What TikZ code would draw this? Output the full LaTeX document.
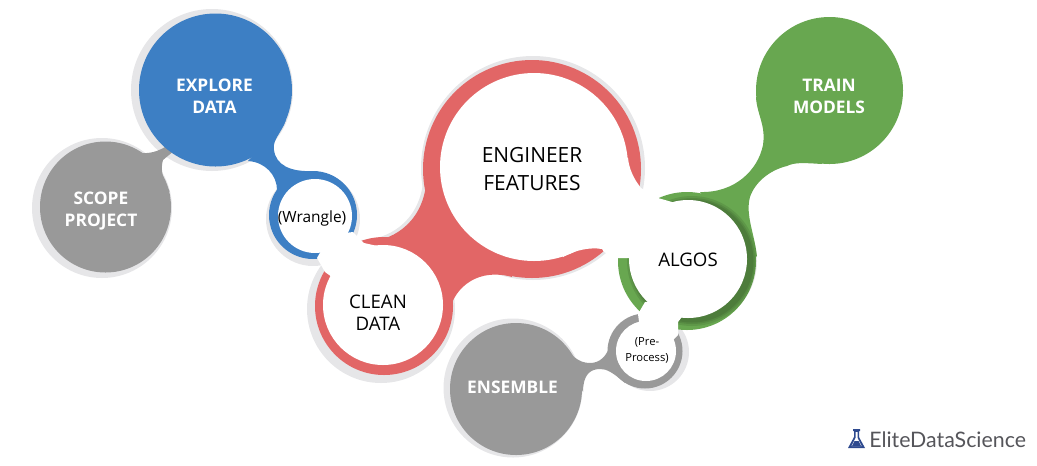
\documentclass[tikz,border=0pt]{standalone}
\usepackage{fontspec}
\setmainfont{Open Sans}
\newfontfamily\logofont{Lato}
\definecolor{hazegrey}{RGB}{230,230,232}
\definecolor{stepgrey}{RGB}{153,153,153}
\definecolor{stepblue}{RGB}{61,127,196}
\definecolor{stepred}{RGB}{226,102,102}
\definecolor{stepgreen}{RGB}{104,167,80}
\definecolor{logoblue}{RGB}{46,74,143}
\definecolor{logotext}{RGB}{85,85,90}
\newcommand{\redweb}{(364,242) .. controls (390,242) and (421,225) .. (426,185) -- (500,200) -- (512,277) .. controls (480,268) and (455,285) .. (449,312) -- (400,300) -- cycle}

\begin{document}
\begin{tikzpicture}[
    x=0.75pt, y=-0.75pt,
    halo/.style={fill=hazegrey},
    hole/.style={fill=white},
    shade/.style={fill=black, fill opacity=0.09},
    whitetext/.style={text=white, align=center, font=\bfseries\fontsize{13}{16.5}\selectfont},
    darktext/.style={text=black, align=center, font=\fontsize{14}{16.5}\selectfont}
]
\useasboundingbox (0,0) rectangle (1037,465);

% Scope project
\fill[halo] (102,208) circle[radius=70];
\fill[stepgrey] (105.5,207) circle[radius=65.5];

% Explore data and wrangle ring
\fill[halo] (212,90) circle[radius=81];
\fill[stepgrey] (135,152) .. controls (148,155) and (158,152) .. (170,144) -- (175,150) -- (163,160) .. controls (160,170) and (163,180) .. (170,192) -- cycle;
\fill[halo] (313,219) circle[radius=47];
\fill[stepblue] (215.5,90) circle[radius=76.5];
\fill[stepblue] (313,215) circle[radius=44];
\fill[stepblue] (286,120) .. controls (282,132) and (272,140) .. (274,150) .. controls (276,165) and (290,172) .. (313,171) -- (277,190) .. controls (277,175) and (265,162) .. (248,161) -- cycle;

% Ensemble and pre-process ring
\fill[halo] (513,388) circle[radius=69.5];
\fill[halo] (650,352) circle[radius=39];
\fill[stepgrey] (516,389) circle[radius=66];
\fill[stepgrey] (645,351) circle[radius=37.5];
\fill[stepgrey] (560,340) .. controls (570,355) and (578,363) .. (590,363) .. controls (600,363) and (606,356) .. (609,348) -- (625,383) .. controls (612,372) and (607,369) .. (600,369) .. controls (590,369) and (583,375) .. (583,392) -- cycle;

% Clean data and engineer features
\begin{scope}
\clip (300,262) rectangle (470,390);
\fill[halo] (381,309) circle[radius=74];
\end{scope}
\fill[halo] (533,168) circle[radius=112];
\fill[halo, shift={(-3,-2)}] \redweb;
\fill[stepred] (384,306) circle[radius=69];
\fill[stepred] (532,169) circle[radius=109];
\fill[stepred] \redweb;

% Train models and algos ring
\fill[stepgreen] (829.5,90.5) circle[radius=73.5];
\fill[stepgreen] (687,261) circle[radius=69];
\fill[stepgreen] (756,97) .. controls (757,115) and (766,125) .. (763,145) .. controls (758,170) and (735,193) .. (700,192) -- (720,220) -- (757,257) .. controls (755,235) and (745,215) .. (750,197) .. controls (755,182) and (770,170) .. (787,166) .. controls (795,162) and (805,163) .. (822,164) -- (830,90) -- cycle;
\fill[shade] (692,261) circle[radius=65];
\fill[shade] (692,261) circle[radius=63];
\fill[shade] (692,261) circle[radius=61.5];

% White insides and their necks
\fill[hole] (315,216) circle[radius=37];
\fill[hole] (383,305) circle[radius=60];
\fill[hole] (534,167) circle[radius=94];
\fill[hole] (688,259) circle[radius=59];
\fill[hole] (646,351) circle[radius=30];
\fill[hole] (353,232) -- (364,243) -- (395,250) -- (350,290) -- (325,272) -- (317,258) -- (330,235) -- cycle;
\fill[hole] (534,167) -- (628,158) .. controls (629,168) and (633,178) .. (641,188) -- (658,198) -- (672,202) -- (700,240) -- (640,258) -- (618,258) -- (604,252) -- (602,249) .. controls (590,247) and (575,250) .. (563,257) -- cycle;
\fill[hole] (645,302) -- (638,314) -- (642,345) -- (668,345) -- (678,335) -- (678,322) -- (695,300) -- cycle;

% Labels
\node[whitetext] (scope) at (101,211) {SCOPE\\PROJECT};
\node[whitetext] (explore) at (214.5,96) {EXPLORE\\DATA};
\node[darktext, font=\fontsize{11.6}{14}\selectfont] (wrangle) at (312,218) {(Wrangle)};
\node[darktext] (clean) at (378,313) {CLEAN\\DATA};
\node[darktext, font=\fontsize{15.7}{20.5}\selectfont] (engineer) at (532,169) {ENGINEER\\FEATURES};
\node[darktext] (algos) at (688,260) {ALGOS};
\node[darktext, font=\fontsize{8.4}{12}\selectfont] (preprocess) at (647,350) {(Pre-\\Process)};
\node[whitetext] (ensemble) at (512.5,387) {ENSEMBLE};
\node[whitetext] (train) at (829,96) {TRAIN\\MODELS};

% Logo
\fill[logoblue] (853,429) -- (860,429) -- (860,431) -- (859,431) -- (859,437) -- (865,448) -- (848,448) -- (854,437) -- (854,431) -- (853,431) -- cycle;
\fill[white] (855.5,432) -- (857.5,432) -- (857.5,438) -- (861.5,446) -- (851.5,446) -- (855.5,438) -- cycle;
\fill[logoblue] (854.5,441) -- (858.5,441) -- (861,446) -- (852,446) -- cycle;
\node[text=logotext, font=\logofont\fontsize{16}{18}\selectfont, inner sep=0pt, anchor=west] (logo) at (869,440) {EliteDataScience};
\end{tikzpicture}
\end{document}
